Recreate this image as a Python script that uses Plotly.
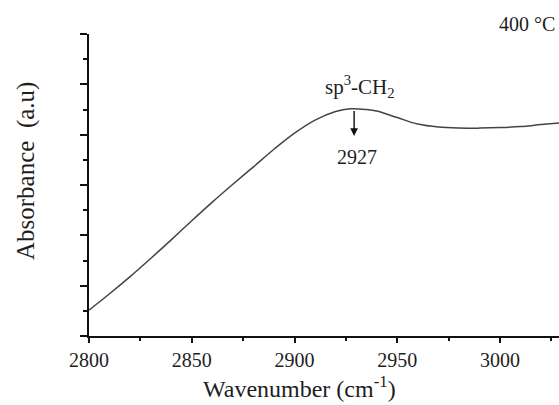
import plotly.graph_objects as go

wavenumber = [2800, 2810, 2820, 2830, 2840, 2850, 2860, 2870, 2880, 2890, 2900,
              2910, 2920, 2927, 2935, 2940, 2950, 2960, 2970, 2980, 2990, 3000,
              3010, 3020, 3030]
absorbance = [1.03, 1.68, 2.36, 3.08, 3.82, 4.58, 5.32, 6.03, 6.72, 7.42, 8.06,
              8.58, 8.92, 9.03, 9.00, 8.94, 8.68, 8.42, 8.30, 8.26, 8.26, 8.28,
              8.32, 8.40, 8.47]
x_ticks = [2800, 2850, 2900, 2950, 3000]
peak_x = 2927
peak_label = "2927"
band_label = "sp<sup>3</sup>-CH<sub>2</sub>"
temp_label = "400 °C"

FONT = "Liberation Serif"
TXT = "#1e1e1e"

fig = go.Figure()
fig.add_trace(go.Scatter(x=wavenumber, y=absorbance, mode="lines",
                         line=dict(color="#444444", width=1.5, shape="spline",
                                   smoothing=1.0),
                         hoverinfo="skip"))

fig.update_layout(
    width=559, height=405,
    margin=dict(l=89, r=0, t=34, b=69),
    plot_bgcolor="white", paper_bgcolor="white",
    showlegend=False,
    font=dict(family=FONT, color=TXT, size=20),
    xaxis=dict(range=[2800, 3028.7], tickvals=x_ticks, ticks="outside",
               ticklen=5, tickwidth=2, tickcolor="#111",
               minor=dict(dtick=25, tick0=2800, ticks="outside", ticklen=3,
                          tickwidth=2, tickcolor="#111"),
               showline=True, linewidth=2, linecolor="#111",
               showgrid=False, zeroline=False,
               tickfont=dict(family=FONT, size=20, color=TXT)),
    yaxis=dict(range=[0, 12], tick0=0, dtick=2, ticks="outside", ticklen=7,
               tickwidth=2, tickcolor="#111", showticklabels=False,
               minor=dict(dtick=1, tick0=0, ticks="outside", ticklen=4,
                          tickwidth=2, tickcolor="#111"),
               showline=True, linewidth=2, linecolor="#111",
               showgrid=False, zeroline=False),
)

# axis titles as annotations
fig.add_annotation(text="Wavenumber (cm<sup>-1</sup>)", xref="paper", yref="paper",
                   x=(299 - 89) / 470, y=-(387 - 336) / 302, showarrow=False,
                   xanchor="center", yanchor="middle",
                   font=dict(family=FONT, size=24, color=TXT))
fig.add_annotation(text="Absorbance  (a.u)", xref="paper", yref="paper",
                   x=-(89 - 26) / 470, y=(336 - 171) / 302, showarrow=False,
                   textangle=-90, xanchor="center", yanchor="middle",
                   font=dict(family=FONT, size=25, color=TXT))

# peak arrow
fig.add_annotation(x=peak_x + 2, y=7.95, ax=peak_x + 2, ay=9.0,
                   xref="x", yref="y", axref="x", ayref="y",
                   text="", showarrow=True, arrowhead=2, arrowsize=1.1,
                   arrowwidth=1.4, arrowcolor="#111")
fig.add_annotation(x=peak_x + 3.4, y=7.1, xref="x", yref="y", text=peak_label,
                   showarrow=False, font=dict(family=FONT, size=20, color=TXT))
fig.add_annotation(x=peak_x + 5, y=9.9, xref="x", yref="y", text=band_label,
                   showarrow=False, font=dict(family=FONT, size=21, color=TXT))
fig.add_annotation(text=temp_label, xref="paper", yref="paper",
                   x=(527 - 89) / 470, y=(336 - 24) / 302, showarrow=False,
                   xanchor="center", yanchor="middle",
                   font=dict(family=FONT, size=20, color=TXT))

fig.write_html("out.html", config={"displayModeBar": False},
               post_script="document.body.style.margin='0px';")
